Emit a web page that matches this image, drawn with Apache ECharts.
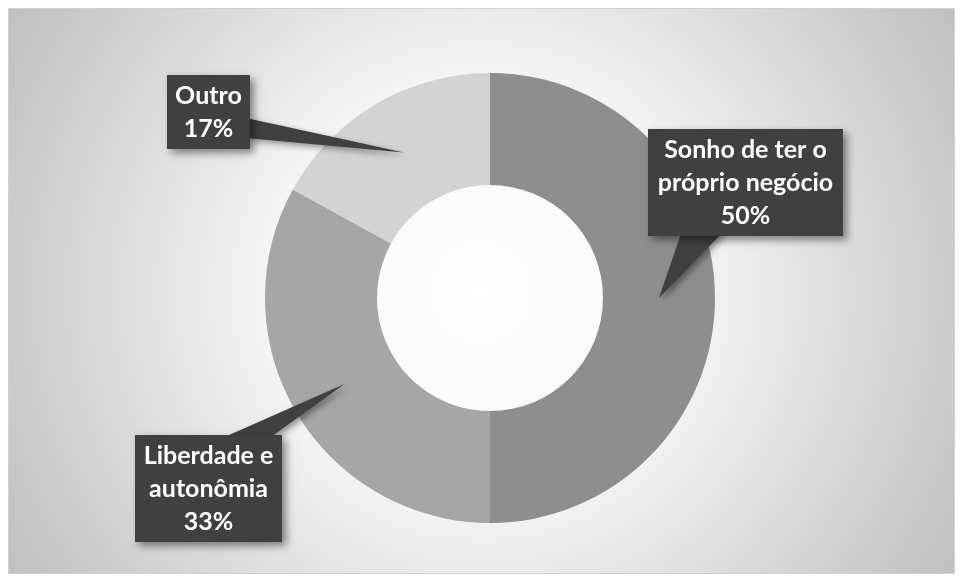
<!DOCTYPE html>
<html>
<head>
<meta charset="utf-8">
<title>Motivos</title>
<script src="https://cdn.jsdelivr.net/npm/echarts@6/dist/echarts.min.js"></script>
<style>
  html, body { margin: 0; padding: 0; background: #fff; }
  #chart { width: 963px; height: 583px; }
</style>
</head>
<body>
<div id="chart"></div>
<script>
  // dados do gráfico
  var categorias = ['Sonho de ter o\npróprio negócio', 'Liberdade e\nautonômia', 'Outro'];
  var valores = [50, 33, 17];
  var cores = ['#8e8e8e', '#a6a6a6', '#d3d3d3'];

  // geometria da rosca
  var centro = [490, 298];
  var raios = [113, 225];

  // caixas dos rótulos: esquerda, topo, largura; base da seta
  var caixas = [
    { left: 648, top: 129, width: 195, base: [[682, 231], [724, 231]] },
    { left: 135, top: 435, width: 147, base: [[220, 439], [268, 439]] },
    { left: 167, top: 75, width: 83, base: [[246, 118], [246, 138]] }
  ];

  var total = valores.reduce(function (a, b) { return a + b; }, 0);

  // ponta da seta = meio do anel no ângulo médio da fatia
  function ponta(i) {
    var acum = 0;
    for (var k = 0; k < i; k++) acum += valores[k];
    var ang = 2 * Math.PI * (acum + valores[i] / 2) / total;
    var r = (raios[0] + raios[1]) / 2;
    return [centro[0] + r * Math.sin(ang), centro[1] - r * Math.cos(ang)];
  }

  var dados = categorias.map(function (nome, i) {
    return { name: nome, value: valores[i], itemStyle: { color: cores[i] } };
  });

  var setas = caixas.map(function (c, i) {
    return {
      type: 'polygon',
      z: 3,
      silent: true,
      shape: { points: [c.base[0], c.base[1], ponta(i)] },
      style: {
        fill: '#404040',
        shadowBlur: 6,
        shadowOffsetX: 3,
        shadowOffsetY: 3,
        shadowColor: 'rgba(0,0,0,0.4)'
      }
    };
  });

  var option = {
    animation: false,
    graphic: [
      {
        type: 'rect',
        z: -10,
        silent: true,
        shape: { x: 8.5, y: 8.5, width: 946, height: 565 },
        style: {
          stroke: '#d0d0d0',
          lineWidth: 1,
          fill: {
            type: 'radial', x: 0.5, y: 0.5, r: 1,
            colorStops: [
              { offset: 0, color: '#ffffff' },
              { offset: 0.35, color: '#f7f7f7' },
              { offset: 1, color: '#bdbdbd' }
            ]
          }
        }
      }
    ].concat(setas),
    series: [
      {
        type: 'pie',
        z: 2,
        center: centro,
        radius: raios,
        startAngle: 90,
        clockwise: true,
        silent: true,
        label: { show: false },
        labelLine: { show: false },
        data: dados
      },
      {
        // série transparente só para os rótulos
        type: 'pie',
        z: 5,
        center: centro,
        radius: raios,
        startAngle: 90,
        clockwise: true,
        silent: true,
        percentPrecision: 0,
        itemStyle: { color: 'rgba(0,0,0,0)' },
        labelLine: { show: false },
        label: {
          show: true,
          formatter: '{b}\n{d}%',
          color: '#ffffff',
          fontFamily: 'Lato',
          fontWeight: 'bold',
          fontSize: 25,
          lineHeight: 33,
          backgroundColor: '#404040',
          padding: [4, 0],
          shadowBlur: 8,
          shadowOffsetX: 4,
          shadowOffsetY: 4,
          shadowColor: 'rgba(0,0,0,0.45)'
        },
        labelLayout: function (p) {
          var c = caixas[p.dataIndex];
          return {
            x: c.left + c.width / 2,
            y: c.top,
            width: c.width,
            align: 'center',
            verticalAlign: 'top'
          };
        },
        data: categorias.map(function (nome, i) {
          return { name: nome, value: valores[i] };
        })
      }
    ]
  };

  var chart = echarts.init(document.getElementById('chart'));
  chart.setOption(option);
</script>
</body>
</html>
